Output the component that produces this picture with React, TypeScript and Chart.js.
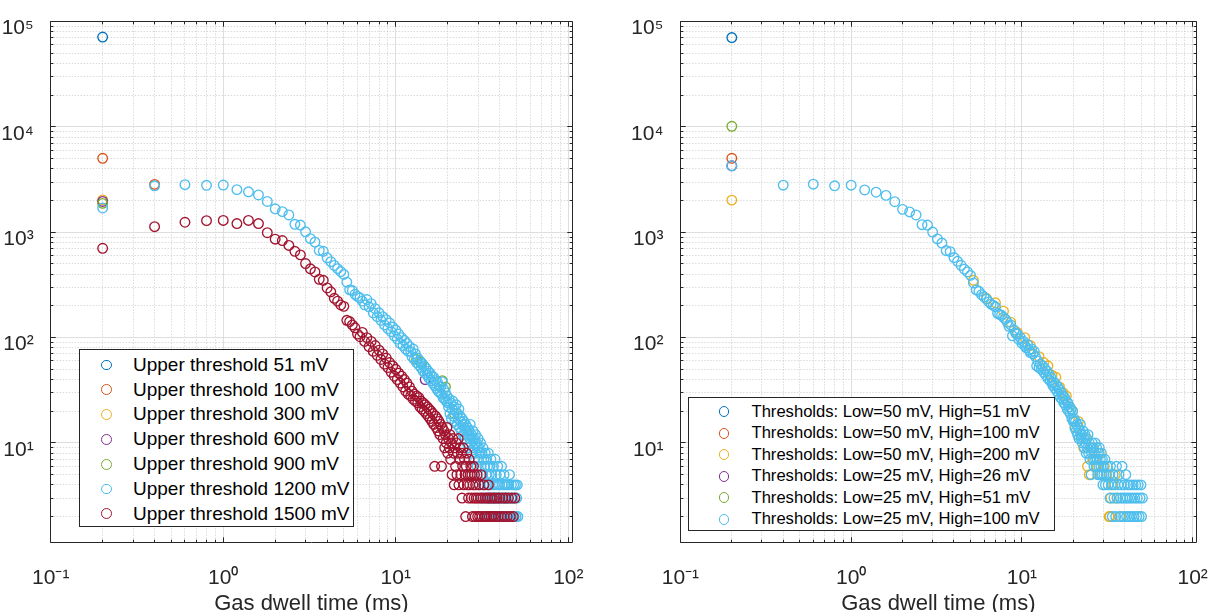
import React, { useEffect, useRef } from "react";
import { Chart, registerables } from "chart.js";

Chart.register(...registerables);

const FONT = '"Liberation Sans", Arial, Helvetica, sans-serif';
const AXIS_COLOR = "#262626";
const MAJOR_GRID = "#dedede";
const MINOR_GRID = "#cacaca";
const SERIES_COLORS = ["#0072BD", "#D95319", "#EDB120", "#7E2F8E", "#77AC30", "#4DBEEE", "#A2142F"];

// ---- axes / ticks ----
const X_LIMITS = [0.1, 105];
const Y_LIMITS = [1.13, 100000];
const X_TICKS = [0.1, 1, 10, 100];
const X_TICK_LABELS = ["10\u207B\u00B9", "10\u2070", "10\u00B9", "10\u00B2"];
const Y_TICKS = [10, 100, 1000, 10000, 100000];
const Y_TICK_LABELS = ["10\u00B9", "10\u00B2", "10\u00B3", "10\u2074", "10\u2075"];
const X_TITLE = "Gas dwell time (ms)";

// ---- legends ----
const LEFT_LABELS = [
  "Upper threshold 51 mV",
  "Upper threshold 100 mV",
  "Upper threshold 300 mV",
  "Upper threshold 600 mV",
  "Upper threshold 900 mV",
  "Upper threshold 1200 mV",
  "Upper threshold 1500 mV",
];
const RIGHT_LABELS = [
  "Thresholds: Low=50 mV, High=51 mV",
  "Thresholds: Low=50 mV, High=100 mV",
  "Thresholds: Low=50 mV, High=200 mV",
  "Thresholds: Low=25 mV, High=26 mV",
  "Thresholds: Low=25 mV, High=51 mV",
  "Thresholds: Low=25 mV, High=100 mV",
];

// ---- data: dwell times (ms) of the dense part ----
const denseTimes = [
  0.2, 0.4, 0.6, 0.8, 1.0, 1.2, 1.4, 1.6, 1.8, 2.0,
  2.2, 2.4, 2.6, 2.8, 3.0, 3.2, 3.4, 3.6, 3.8, 4.0,
  4.2, 4.4, 4.6, 4.8, 5.0, 5.2, 5.4, 5.6, 5.8, 6.0,
  6.2, 6.4, 6.6, 6.8, 7.0, 7.2, 7.4, 7.6, 7.8, 8.0,
  8.2, 8.4, 8.6, 8.8, 9.0, 9.2, 9.4, 9.6, 9.8, 10.0,
  10.2, 10.4, 10.6, 10.8, 11.0, 11.2, 11.4, 11.6, 11.8, 12.0,
  12.2, 12.4, 12.6, 12.8, 13.0, 13.2, 13.4, 13.6, 13.8, 14.0,
  14.2, 14.4, 14.6, 14.8, 15.0, 15.2, 15.4, 15.6, 15.8, 16.0,
  16.2, 16.4, 16.6, 16.8, 17.0, 17.2, 17.4, 17.6, 17.8, 18.0,
  18.2, 18.4, 18.6, 18.8, 19.0, 19.2, 19.4, 19.6, 19.8, 20.0,
];

// Left panel, upper threshold 1200 mV
const left1200Dense = [
  1700, 2760, 2830, 2790, 2810, 2540, 2420, 2260, 1960, 1670,
  1570, 1460, 1190, 1170, 1010, 870, 805, 672, 660, 572,
  526, 484, 452, 424, 398, 336, 284, 280, 258, 246,
  238, 222, 205, 230, 196, 210, 172, 188, 158, 172,
  146, 158, 132, 148, 122, 138, 114, 126, 104, 118,
  97, 108, 88, 100, 84, 94, 78, 88, 74, 82,
  74, 66, 78, 62, 70, 58, 64, 55, 60, 52,
  57, 48, 54, 46, 51, 44, 48, 41, 46, 39,
  43, 37, 42, 35, 39, 33, 38, 31, 35, 30,
  34, 29, 38, 27, 32, 26, 30, 25, 28, 24,
];
const left1200TailX = [
  20.2, 20.4, 20.6, 20.8, 21.0, 21.2, 21.4, 21.6, 21.8, 22.0,
  22.2, 22.4, 22.6, 22.8, 23.0, 23.2, 23.4, 23.6, 23.8, 24.0,
  24.2, 24.4, 24.6, 24.8, 25.0, 25.2, 25.4, 25.6, 25.8, 26.0,
  26.2, 26.4, 26.6, 26.8, 27.0, 27.2, 27.4, 27.6, 27.8, 28.0,
  28.2, 28.4, 28.6, 28.8, 29.0, 29.2, 29.4, 29.6, 29.8, 30.0,
  30.2, 30.4, 30.6, 30.8, 31.0, 31.2, 31.4, 31.6, 31.8, 32.0,
  32.2, 32.4, 32.6, 32.8, 33.0, 33.2, 33.4, 33.6, 33.8, 34.0,
  34.2, 34.4, 34.6, 34.8, 35.0, 35.2, 35.4, 35.6, 35.8, 36.0,
  36.4, 36.6, 36.8, 37.0, 37.4, 37.6, 37.8, 38.2, 38.4, 38.8,
  39.0, 39.2, 39.6, 39.8, 40.2, 40.4, 40.8, 41.0, 41.4, 41.8,
  42.0, 42.4, 42.8, 43.2, 43.6, 44.0, 44.4, 44.8, 45.2, 45.6,
  46.0, 46.4, 46.8, 47.2, 47.8, 48.2, 48.6, 49.0, 49.4, 49.8, 50.2, 50.6, 51.0,
];
const left1200TailY = [
  22, 26, 19, 24, 17, 21, 25, 18, 22, 16,
  20, 23, 15, 19, 17, 21, 14, 18, 16, 13,
  17, 15, 12, 16, 14, 11, 15, 13, 10, 14,
  12, 9, 13, 11, 15, 10, 12, 8, 11, 13,
  9, 11, 7, 10, 12, 8, 10, 6, 9, 11,
  7, 9, 4, 8, 10, 6, 3, 8, 5, 9,
  4, 7, 2, 6, 8, 3, 5, 7, 4, 6,
  2, 8, 3, 5, 4, 6, 2, 7, 3, 5,
  4, 2, 6, 3, 4, 7, 2, 5, 3, 4,
  6, 2, 3, 4, 5, 2, 3, 6, 4, 2,
  3, 5, 4, 2, 3, 4, 2, 3, 4, 5,
  2, 3, 4, 2, 3, 4, 2, 3, 4, 2, 3, 4, 2,
];

// Left panel, upper threshold 1500 mV
const left1500Dense = [
  705, 1130, 1245, 1290, 1295, 1210, 1295, 1210, 990, 860,
  835, 750, 660, 610, 505, 450, 420, 358, 350, 296,
  272, 236, 222, 204, 198, 146, 142, 132, 124, 108,
  102, 112, 92, 100, 82, 92, 74, 84, 68, 76,
  62, 70, 56, 64, 52, 58, 47, 54, 43, 50,
  40, 46, 37, 43, 34, 40, 31, 37, 29, 34,
  28, 31, 26, 29, 25, 28, 24, 27, 22, 25,
  21, 24, 20, 23, 19, 22, 18, 21, 17, 20,
  16, 19, 15, 6, 18, 14, 17, 13, 16, 12,
  15, 6, 14, 11, 13, 9, 12, 10, 14, 8,
];
const left1500TailX = [
  20.2, 20.4, 20.6, 20.8, 21.0, 21.2, 21.4, 21.6, 21.8, 22.0,
  22.2, 22.4, 22.6, 22.8, 23.0, 23.2, 23.4, 23.6, 23.8, 24.0,
  24.2, 24.4, 24.6, 24.8, 25.0, 25.2, 25.4, 25.6, 25.8, 26.0,
  26.2, 26.4, 26.6, 26.8, 27.0, 27.2, 27.4, 27.6, 27.8, 28.0,
  28.2, 28.4, 28.6, 28.8, 29.0, 29.2, 29.6, 29.8, 30.0, 30.4,
  30.6, 31.0, 31.2, 31.6, 32.0, 32.4, 32.8, 33.0, 33.6, 34.0,
  34.4, 34.8, 35.2, 35.8, 36.2, 36.8, 37.4, 38.0, 38.6, 39.2,
  40.0, 40.8, 41.6, 42.4, 43.2, 44.2, 45.0, 46.0, 47.0, 48.0, 49.0,
];
const left1500TailY = [
  11, 9, 12, 7, 10, 5, 11, 8, 4, 9,
  6, 10, 5, 8, 11, 4, 7, 9, 5, 8,
  3, 6, 9, 4, 7, 5, 2, 6, 8, 4,
  5, 3, 7, 4, 5, 6, 3, 5, 2, 4,
  6, 3, 5, 2, 4, 3, 5, 2, 3, 4,
  2, 3, 5, 2, 3, 4, 2, 3, 2, 3,
  4, 2, 3, 2, 3, 2, 3, 2, 3, 2,
  3, 2, 3, 2, 3, 2, 3, 2, 3, 2, 3,
];

// Left panel, lower thresholds (mostly hidden below the 1200 mV series)
const left51X = [0.2, 34.6, 37.0, 39.4, 43.4, 37.8, 40.4, 43.0, 46.6];
const left51Y = [71400, 3, 3, 3, 3, 2, 2, 2, 2];
const left100X = [0.2, 0.4];
const left100Y = [5040, 2850];
const left300X = [0.2];
const left300Y = [2030];
const left600X = [0.2, 14.8];
const left600Y = [1960, 40];
const left900X = [0.2, 13.2, 14.0, 18.6, 19.4, 21.8];
const left900Y = [1880, 62, 58, 39, 34, 19];

// Right panel, Low=25 mV High=100 mV
const rightH100Dense = [
  4280, 2800, 2860, 2760, 2800, 2520, 2400, 2240, 1950, 1650,
  1560, 1460, 1180, 1170, 1005, 865, 790, 670, 655, 575,
  530, 486, 446, 420, 390, 330, 284, 275, 256, 244,
  232, 218, 208, 202, 196, 170, 166, 163, 156, 150,
  140, 128, 132, 104, 118, 110, 108, 96, 100, 88,
  92, 84, 80, 86, 76, 72, 78, 70, 74, 66,
  54, 60, 52, 56, 50, 54, 47, 51, 44, 48,
  41, 45, 39, 42, 37, 35, 38, 33, 36, 31,
  34, 29, 32, 27, 30, 26, 28, 24, 27, 23,
  25, 21, 24, 20, 22, 19, 21, 17, 20, 16,
];
const rightH100TailX = [
  20.2, 20.4, 20.6, 20.8, 21.0, 21.2, 21.4, 21.6, 21.8, 22.0,
  22.2, 22.4, 22.6, 22.8, 23.0, 23.2, 23.4, 23.6, 23.8, 24.0,
  24.2, 24.4, 24.6, 24.8, 25.0, 25.2, 25.4, 25.6, 25.8, 26.0,
  26.2, 26.4, 26.6, 26.8, 27.0, 27.2, 27.4, 27.6, 27.8, 28.0,
  28.2, 28.4, 28.6, 28.8, 29.0, 29.2, 29.4, 29.6, 29.8, 30.0,
  30.2, 30.6, 30.8, 31.2, 31.6, 32.0, 32.4, 32.8, 33.0, 33.4,
  33.8, 34.2, 34.6, 35.0, 35.4, 35.8, 36.2, 36.6, 37.0, 37.4,
  37.8, 38.2, 38.6, 39.0, 39.4, 39.8, 40.2, 40.6, 41.0, 41.4,
  41.8, 42.4, 42.8, 43.2, 43.8, 44.2, 44.8, 45.4, 45.8, 46.4,
  47.0, 47.4, 48.0, 48.6, 49.2, 49.8, 50.2, 50.8,
];
const rightH100TailY = [
  17, 14, 16, 13, 15, 12, 14, 11, 13, 15,
  11, 12, 10, 13, 11, 9, 12, 10, 8, 11,
  9, 12, 8, 10, 7, 9, 5, 8, 10, 7,
  9, 6, 8, 10, 7, 6, 9, 7, 5, 8,
  6, 9, 5, 7, 6, 8, 5, 7, 4, 6,
  5, 7, 4, 5, 6, 4, 5, 3, 6, 4,
  2, 5, 3, 4, 2, 6, 3, 4, 5, 2,
  3, 4, 6, 3, 2, 4, 3, 5, 2, 3,
  4, 2, 3, 4, 2, 3, 4, 2, 3, 4,
  2, 3, 4, 2, 3, 4, 2, 3,
];

// Right panel, Low=50 mV High=200 mV (visible where it peeks out)
const rightH200X = [
  0.2, 5.2, 6.2, 7.0, 7.8, 8.6, 9.4, 10.4, 11.2, 12.6,
  13.4, 14.2, 15.0, 15.8, 16.6, 17.4, 18.2, 19.0, 19.8, 20.6,
  21.4, 22.2, 23.0, 23.6, 24.2, 24.8, 25.6, 26.4, 27.6, 28.4,
  29.2, 30.4, 31.2, 32.4, 32.8, 33.2, 34.0, 35.2, 36.0, 38.0,
];
const rightH200Y = [
  2020, 350, 236, 214, 178, 140, 112, 100, 84, 66,
  58, 54, 44, 42, 34, 30, 28, 22, 20, 14,
  16, 12, 9, 11, 6, 5, 9, 7, 6, 8,
  5, 6, 5, 2, 2, 3, 4, 5, 3, 2,
];
const rightL50H51X = [0.2];
const rightL50H51Y = [70500];
const rightL50H100X = [0.2];
const rightL50H100Y = [5040];
const rightL25H26X = [0.2];
const rightL25H26Y = [4280];
const rightL25H51X = [0.2];
const rightL25H51Y = [10150];

type Series = { label: string; x: number[]; y: number[] };

const LEFT_SERIES: Series[] = [
  { label: LEFT_LABELS[0], x: left51X, y: left51Y },
  { label: LEFT_LABELS[1], x: left100X, y: left100Y },
  { label: LEFT_LABELS[2], x: left300X, y: left300Y },
  { label: LEFT_LABELS[3], x: left600X, y: left600Y },
  { label: LEFT_LABELS[4], x: left900X, y: left900Y },
  { label: LEFT_LABELS[5], x: denseTimes.concat(left1200TailX), y: left1200Dense.concat(left1200TailY) },
  { label: LEFT_LABELS[6], x: denseTimes.concat(left1500TailX), y: left1500Dense.concat(left1500TailY) },
];

const RIGHT_SERIES: Series[] = [
  { label: RIGHT_LABELS[0], x: rightL50H51X, y: rightL50H51Y },
  { label: RIGHT_LABELS[1], x: rightL50H100X, y: rightL50H100Y },
  { label: RIGHT_LABELS[2], x: rightH200X, y: rightH200Y },
  { label: RIGHT_LABELS[3], x: rightL25H26X, y: rightL25H26Y },
  { label: RIGHT_LABELS[4], x: rightL25H51X, y: rightL25H51Y },
  { label: RIGHT_LABELS[5], x: denseTimes.concat(rightH100TailX), y: rightH100Dense.concat(rightH100TailY) },
];

const MARKER_RADIUS = 4.8;
const MARKER_WIDTH = 1.35;

function logGridValues(min: number, max: number) {
  const majors: number[] = [];
  const minors: number[] = [];
  const e0 = Math.floor(Math.log10(min));
  const e1 = Math.ceil(Math.log10(max));
  for (let e = e0; e <= e1; e++) {
    for (let k = 1; k <= 9; k++) {
      const v = parseFloat((k * Math.pow(10, e)).toPrecision(6));
      if (v < min * 0.9999 || v > max * 1.0001) continue;
      (k === 1 ? majors : minors).push(v);
    }
  }
  return { majors, minors };
}

const snap = (p: number) => Math.floor(p) + 0.5;

const matlabAxes = {
  id: "matlabAxes",
  beforeDatasetsDraw(chart: any) {
    const { ctx, chartArea: a, scales } = chart;
    const xs = scales.x;
    const ys = scales.y;
    const gx = logGridValues(xs.min, xs.max);
    const gy = logGridValues(ys.min, ys.max);
    ctx.save();
    ctx.lineWidth = 1;
    ctx.strokeStyle = MINOR_GRID;
    ctx.setLineDash([1, 2]);
    ctx.beginPath();
    gx.minors.forEach((v) => {
      const p = snap(xs.getPixelForValue(v));
      ctx.moveTo(p, a.top);
      ctx.lineTo(p, a.bottom);
    });
    gy.minors.forEach((v) => {
      const p = snap(ys.getPixelForValue(v));
      ctx.moveTo(a.left, p);
      ctx.lineTo(a.right, p);
    });
    ctx.stroke();
    ctx.setLineDash([]);
    ctx.strokeStyle = MAJOR_GRID;
    ctx.beginPath();
    gx.majors.forEach((v) => {
      const p = snap(xs.getPixelForValue(v));
      ctx.moveTo(p, a.top);
      ctx.lineTo(p, a.bottom);
    });
    gy.majors.forEach((v) => {
      const p = snap(ys.getPixelForValue(v));
      ctx.moveTo(a.left, p);
      ctx.lineTo(a.right, p);
    });
    ctx.stroke();
    ctx.restore();
  },
  afterDatasetsDraw(chart: any) {
    const { ctx, chartArea: a, scales } = chart;
    const xs = scales.x;
    const ys = scales.y;
    const gx = logGridValues(xs.min, xs.max);
    const gy = logGridValues(ys.min, ys.max);
    const L = snap(a.left), R = snap(a.right), T = snap(a.top), B = snap(a.bottom);
    const major = 5.2;
    const minor = 2.8;
    ctx.save();
    ctx.lineWidth = 1;
    ctx.strokeStyle = AXIS_COLOR;
    ctx.beginPath();
    const xt = (v: number, len: number) => {
      const p = snap(xs.getPixelForValue(v));
      ctx.moveTo(p, B);
      ctx.lineTo(p, B - len);
      ctx.moveTo(p, T);
      ctx.lineTo(p, T + len);
    };
    const yt = (v: number, len: number) => {
      const p = snap(ys.getPixelForValue(v));
      ctx.moveTo(L, p);
      ctx.lineTo(L + len, p);
      ctx.moveTo(R, p);
      ctx.lineTo(R - len, p);
    };
    gx.majors.forEach((v) => xt(v, major));
    gx.minors.forEach((v) => xt(v, minor));
    gy.majors.forEach((v) => yt(v, major));
    gy.minors.forEach((v) => yt(v, minor));
    ctx.stroke();
    ctx.beginPath();
    ctx.rect(L, T, R - L, B - T);
    ctx.stroke();
    ctx.restore();
  },
};

type PanelLayout = { padLeft: number; padRight: number; yWidth: number };

function makeConfig(series: Series[], lay: PanelLayout): any {
  const n = series.length;
  return {
    type: "scatter",
    data: {
      datasets: series.map((s, i) => ({
        label: s.label,
        data: s.x.map((x, k) => ({ x, y: s.y[k] })),
        borderColor: SERIES_COLORS[i],
        backgroundColor: "rgba(0,0,0,0)",
        pointBackgroundColor: "rgba(0,0,0,0)",
        pointBorderColor: SERIES_COLORS[i],
        pointRadius: MARKER_RADIUS,
        pointHoverRadius: MARKER_RADIUS,
        pointBorderWidth: MARKER_WIDTH,
        pointHoverBorderWidth: MARKER_WIDTH,
        showLine: false,
        order: n - i,
      })),
    },
    options: {
      animation: false,
      responsive: false,
      devicePixelRatio: 1,
      events: [],
      layout: { padding: { left: lay.padLeft, right: lay.padRight, top: 21, bottom: 0 } },
      plugins: { legend: { display: false }, tooltip: { enabled: false } },
      scales: {
        x: {
          type: "logarithmic",
          position: "bottom",
          min: X_LIMITS[0],
          max: X_LIMITS[1],
          grid: { display: false },
          border: { display: false },
          afterBuildTicks: (s: any) => {
            s.ticks = X_TICKS.map((v) => ({ value: v, major: true }));
          },
          afterFit: (s: any) => {
            s.height = 69.3;
          },
          ticks: {
            autoSkip: false,
            maxRotation: 0,
            minRotation: 0,
            padding: 15,
            color: AXIS_COLOR,
            font: { family: FONT, size: 21, lineHeight: 1.2 },
            callback: (_v: any, i: number) => X_TICK_LABELS[i],
          },
          title: {
            display: true,
            text: X_TITLE,
            color: AXIS_COLOR,
            font: { family: FONT, size: 22, lineHeight: 0.6 },
            padding: { top: 0, bottom: 1 },
          },
        },
        y: {
          type: "logarithmic",
          position: "left",
          min: Y_LIMITS[0],
          max: Y_LIMITS[1],
          grid: { display: false },
          border: { display: false },
          afterBuildTicks: (s: any) => {
            s.ticks = Y_TICKS.map((v) => ({ value: v, major: true }));
          },
          afterFit: (s: any) => {
            s.width = lay.yWidth;
          },
          ticks: {
            autoSkip: false,
            padding: 9,
            labelOffset: 7,
            color: AXIS_COLOR,
            font: { family: FONT, size: 21, lineHeight: 1.2 },
            callback: (_v: any, i: number) => Y_TICK_LABELS[i],
          },
        },
      },
    },
    plugins: [matlabAxes],
  };
}

type LegendProps = {
  left: number;
  top: number;
  width: number;
  height: number;
  firstRow: number;
  rowStep: number;
  markerX: number;
  textX: number;
  fontSize: number;
  labels: string[];
};

function Legend(p: LegendProps) {
  const d = 2 * MARKER_RADIUS + MARKER_WIDTH;
  return (
    <>
      <div
        style={{
          position: "absolute",
          left: p.left,
          top: p.top,
          width: p.width,
          height: p.height,
          boxSizing: "border-box",
          border: `1px solid ${AXIS_COLOR}`,
          background: "#fff",
        }}
      />
      {p.labels.map((lab, i) => {
        const cy = p.firstRow + i * p.rowStep;
        return (
          <React.Fragment key={lab}>
            <div
              style={{
                position: "absolute",
                left: p.markerX - d / 2,
                top: cy - d / 2,
                width: d,
                height: d,
                boxSizing: "border-box",
                border: `${MARKER_WIDTH}px solid ${SERIES_COLORS[i]}`,
                borderRadius: "50%",
              }}
            />
            <div
              style={{
                position: "absolute",
                left: p.textX,
                top: cy - 0.5885 * p.fontSize,
                fontFamily: FONT,
                fontSize: p.fontSize,
                lineHeight: `${1.2 * p.fontSize}px`,
                whiteSpace: "nowrap",
                color: "#000",
              }}
            >
              {lab}
            </div>
          </React.Fragment>
        );
      })}
    </>
  );
}

export default function App() {
  const leftRef = useRef<HTMLCanvasElement>(null);
  const rightRef = useRef<HTMLCanvasElement>(null);

  useEffect(() => {
    const c1 = new Chart(leftRef.current as HTMLCanvasElement, makeConfig(LEFT_SERIES, { padLeft: 0.7, padRight: 40, yWidth: 50 }));
    const c2 = new Chart(rightRef.current as HTMLCanvasElement, makeConfig(RIGHT_SERIES, { padLeft: 1, padRight: 21.3, yWidth: 67.4 }));
    return () => {
      c1.destroy();
      c2.destroy();
    };
  }, []);

  return (
    <div style={{ position: "absolute", left: 0, top: 0, width: 1223, height: 612, background: "#fff", overflow: "hidden" }}>
      <canvas ref={leftRef} width={612} height={612} style={{ position: "absolute", left: 0, top: 0, width: 612, height: 612 }} />
      <canvas ref={rightRef} width={611} height={612} style={{ position: "absolute", left: 612, top: 0, width: 611, height: 612 }} />
      <Legend left={79} top={349} width={275} height={178} firstRow={365} rowStep={24.8} markerX={106.5} textX={133} fontSize={19} labels={LEFT_LABELS} />
      <Legend left={688} top={397} width={367} height={134} firstRow={411.7} rowStep={21.5} markerX={724} textX={751.5} fontSize={16.6} labels={RIGHT_LABELS} />
    </div>
  );
}
